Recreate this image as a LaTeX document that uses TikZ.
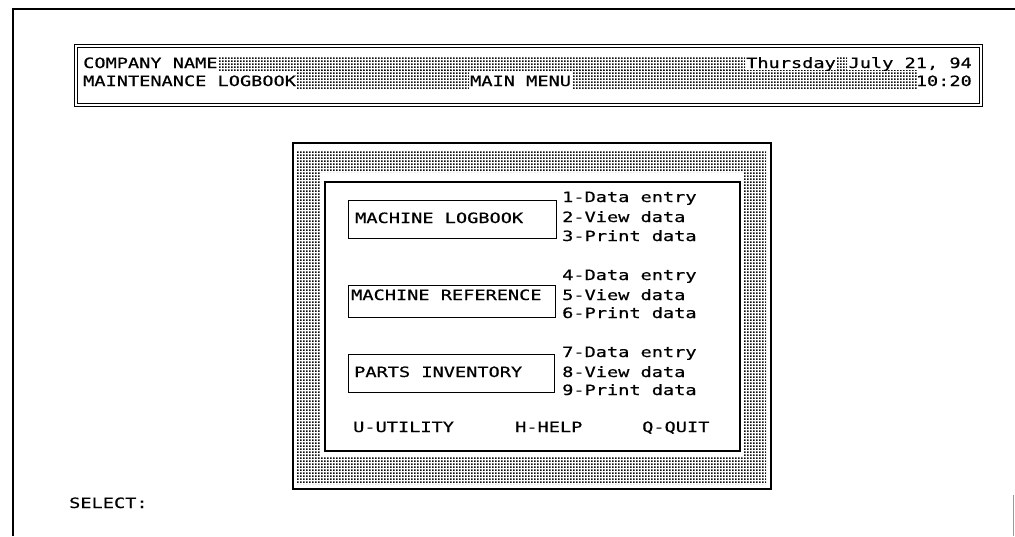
\documentclass[tikz,border=0pt]{standalone}
\usepackage{fontspec}
\usetikzlibrary{patterns.meta}
\newfontfamily\scr[FakeStretch=1.31,FakeBold=0.6]{DejaVu Sans Mono}
\tikzdeclarepattern{name=stipdots, type=uncolored,
  bounding box={(0pt,0pt) and (3pt,3pt)}, tile size={(3pt,3pt)},
  code={\pgfpathrectangle{\pgfpointorigin}{\pgfpoint{2pt}{2pt}}\pgfusepath{fill}}}
\begin{document}
\begin{tikzpicture}[x=1pt,y=-1pt,
  txt/.style={font=\scr\fontsize{14.2}{14}\selectfont, inner sep=0pt, anchor=base west},
  txtr/.style={txt, anchor=base east},
  stip/.style={pattern={stipdots}, pattern color=black!95},
  frameline/.style={line width=1.2pt},
  itembox/.style={draw, line width=1.1pt}]
\useasboundingbox (0,0) rectangle (1015,536);
% page frame
\draw[frameline] (13,536) -- (13,9) -- (1015,9);
\draw[black!40, line width=0.6pt] (1013,495) -- (1013,536);
% header stipple
\path[stip] (219,56) rectangle (745,70);
\path[stip] (837,56) rectangle (847,70);
\path[stip] (296,70) rectangle (469,88);
\path[stip] (573,70) rectangle (917,88);
% header box
\node[draw, line width=1.2pt, minimum width=908pt, minimum height=62pt, inner sep=0pt, anchor=north west] (hdr) at (74,44) {};
\draw[line width=0.8pt] (77,47) rectangle (979,103);
\node[txt] (company) at (83,68) {COMPANY NAME};
\node[txt] (mlog) at (83,86) {MAINTENANCE LOGBOOK};
\node[txt] (mainmenu) at (470,86) {MAIN MENU};
\node[txt] (day) at (746,68) {Thursday};
\node[txtr] (date) at (972,68) {July 21, 94};
\node[txtr] (time) at (972,86) {10:20};
% menu frame
\node[draw, line width=1.5pt, minimum width=478pt, minimum height=346pt, inner sep=0pt, anchor=north west] (menuouter) at (292,142) {};
\path[stip, even odd rule] (297,151) rectangle (766,484) (320,172) rectangle (743,456);
\node[draw, line width=2pt, fill=white, minimum width=415pt, minimum height=269pt, inner sep=0pt, anchor=north west] (menuinner) at (324,181) {};
% item boxes
\node[itembox, minimum width=208pt, minimum height=38pt, inner sep=0pt, anchor=north west] (mlbox) at (348,200) {};
\node[itembox, minimum width=207pt, minimum height=32pt, inner sep=0pt, anchor=north west] (mrbox) at (348,285) {};
\node[itembox, minimum width=206pt, minimum height=38pt, inner sep=0pt, anchor=north west] (pibox) at (348,354) {};
\node[txt] (mltxt) at (355,223) {MACHINE LOGBOOK};
\node[txt] (mrtxt) at (351,300) {MACHINE REFERENCE};
\node[txt] (pitxt) at (354,377) {PARTS INVENTORY};
% options
\node[txt] (o1) at (562,202) {1-Data entry};
\node[txt] (o2) at (562,222) {2-View data};
\node[txt] (o3) at (562,241) {3-Print data};
\node[txt] (o4) at (562,280) {4-Data entry};
\node[txt] (o5) at (562,300) {5-View data};
\node[txt] (o6) at (562,318) {6-Print data};
\node[txt] (o7) at (562,357) {7-Data entry};
\node[txt] (o8) at (562,377) {8-View data};
\node[txt] (o9) at (562,395) {9-Print data};
% bottom commands
\node[txt] (util) at (353,432) {U-UTILITY};
\node[txt] (help) at (515,432) {H-HELP};
\node[txt] (quit) at (642,432) {Q-QUIT};
% prompt
\node[txt] (select) at (69,508) {SELECT:};
\end{tikzpicture}
\end{document}
